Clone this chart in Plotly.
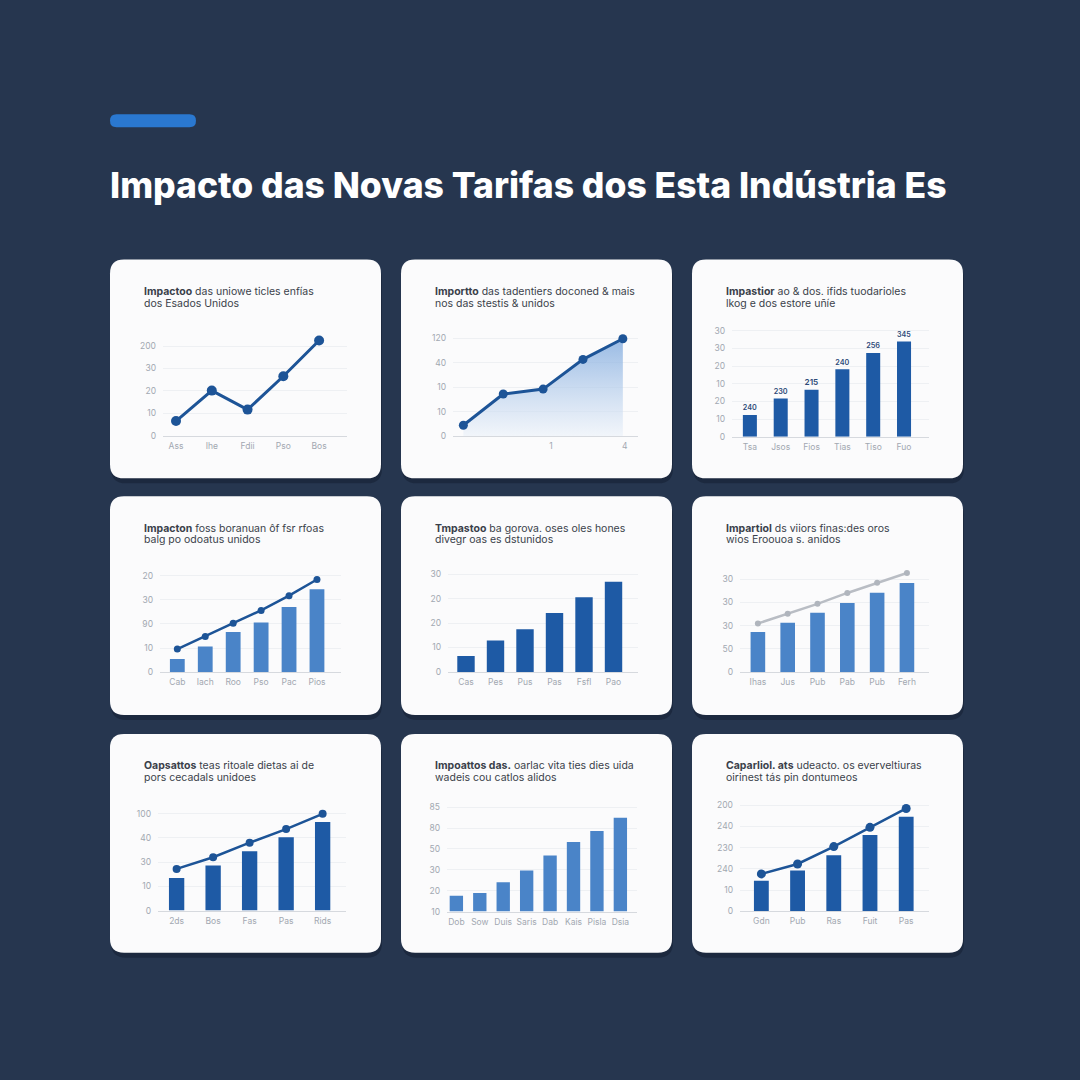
import plotly.graph_objects as go

W, H = 1080, 1080

# ---------------- DATA ----------------
main_title = "Impacto das Novas Tarifas dos Esta Indústria Es"

card_titles = [
    ("Impactoo", "das uniowe ticles enfías", "dos Esados Unidos"),
    ("Importto", "das tadentiers doconed & mais", "nos das stestis & unidos"),
    ("Impastior", "ao & dos. ifids tuodarioles", "lkog e dos estore uñíe"),
    ("Impacton", "foss boranuan ôf fsr rfoas", "balg po odoatus unidos"),
    ("Tmpastoo", "ba gorova. oses oles hones", "divegr oas es dstunidos"),
    ("Impartiol", "ds viiors finas:des oros", "wios Eroouoa s. anidos"),
    ("Oapsattos", "teas ritoale dietas ai de", "pors cecadals unidoes"),
    ("Impoattos das.", "oarlac vita ties dies uida", "wadeis cou catlos alidos"),
    ("Caparliol. ats", "udeacto. os everveltiuras", "oirinest tás pin dontumeos"),
]

c1_labels = ["Ass", "Ihe", "Fdii", "Pso", "Bos"]
c1_values = [6.5, 20.1, 11.6, 26.5, 42.5]
c1_ticks = ["0", "10", "20", "30", "200"]

c2_values = [4.5, 17.2, 19.2, 31.3, 39.7]
c2_xlabels = ["1", "4"]
c2_ticks = ["0", "10", "10", "40", "120"]

c3_labels = ["Tsa", "Jsos", "Fios", "Tias", "Tiso", "Fuo"]
c3_values = [12.4, 21.7, 26.6, 38.2, 47.4, 53.9]
c3_bar_labels = ["240", "230", "215", "240", "256", "345"]
c3_ticks = ["0", "10", "20", "10", "20", "30", "30"]

c4_labels = ["Cab", "Iach", "Roo", "Pso", "Pac", "Pios"]
c4_bars = [5.5, 10.7, 16.7, 20.6, 27.0, 34.4]
c4_line = [9.6, 14.8, 20.3, 25.6, 31.7, 38.4]
c4_ticks = ["0", "10", "90", "30", "20"]

c5_labels = ["Cas", "Pes", "Pus", "Pas", "Fsfl", "Pao"]
c5_values = [6.5, 12.9, 17.5, 24.1, 30.5, 36.9]
c5_ticks = ["0", "10", "20", "20", "30"]

c6_labels = ["Ihas", "Jus", "Pub", "Pab", "Pub", "Ferh"]
c6_bars = [17.2, 21.2, 25.5, 29.8, 34.2, 38.4]
c6_line = [20.9, 25.1, 29.4, 34.1, 38.5, 42.7]
c6_ticks = ["0", "50", "30", "30", "30"]

c7_labels = ["2ds", "Bos", "Fas", "Pas", "Rids"]
c7_bars = [13.4, 18.6, 24.5, 30.2, 36.5]
c7_line = [17.2, 22.0, 28.0, 33.6, 39.9]
c7_ticks = ["0", "10", "30", "40", "100"]

c8_labels = ["Dob", "Sow", "Duis", "Saris", "Dab", "Kais", "Pisla", "Dsia"]
c8_values = [7.6, 8.9, 14.1, 19.7, 26.9, 33.3, 38.6, 44.9]
c8_ticks = ["10", "20", "30", "50", "80", "85"]

c9_labels = ["Gdn", "Pub", "Ras", "Fuit", "Pas"]
c9_bars = [14.4, 19.2, 26.4, 36.0, 44.6]
c9_line = [17.6, 22.3, 30.5, 39.6, 48.5]
c9_ticks = ["0", "10", "240", "230", "240", "200"]

# ---------------- STYLE ----------------
BG = "#26364f"
CARD = "#fbfbfc"
DARK_BLUE = "#1e5aa5"
LINE_BLUE = "#1d5497"
LIGHT_BLUE = "#4a84c8"
GRID = "#eef0f3"
AXIS = "#d6d9de"
TICK_FONT = dict(family="Inter, Roboto, sans-serif", size=8.5, color="#a2a8b1")

def px(x):
    return x / W

def py(y):
    return 1 - y / H

fig = go.Figure()
shapes = []
annotations = []
layout_axes = {}

# card grid
card_x = [110, 401, 692]
card_y = [260, 498, 737]
card_w, card_h = 271, 220

def rr_path(x0, y0, x1, y1, r):
    X0, X1 = px(x0), px(x1)
    Y0, Y1 = py(y0), py(y1)
    R = r / W
    return (f"M {X0+R},{Y0} L {X1-R},{Y0} Q {X1},{Y0} {X1},{Y0-R} "
            f"L {X1},{Y1+R} Q {X1},{Y1} {X1-R},{Y1} L {X0+R},{Y1} "
            f"Q {X0},{Y1} {X0},{Y1+R} L {X0},{Y0-R} Q {X0},{Y0} {X0+R},{Y0} Z")

# accent bar
shapes.append(dict(type="path", xref="paper", yref="paper",
                   path=rr_path(110, 114, 196, 127, 6.5),
                   fillcolor="#2a78d0", line=dict(width=0), layer="below"))

k = 0
for r_, cy in enumerate(card_y):
    for c_, cx in enumerate(card_x):
        # soft shadow
        shapes.append(dict(type="path", xref="paper", yref="paper",
                           path=rr_path(cx + 1, cy + 4, cx + card_w + 1, cy + card_h + 5, 15),
                           fillcolor="rgba(8,14,28,0.30)", line=dict(width=0), layer="below"))
        shapes.append(dict(type="path", xref="paper", yref="paper",
                           path=rr_path(cx, cy, cx + card_w, cy + card_h, 14),
                           fillcolor=CARD, line=dict(width=0), layer="below"))
        bold, rest, line2 = card_titles[k]
        annotations.append(dict(xref="paper", yref="paper", x=px(cx + 32), y=py(cy + 32),
                                xanchor="left", yanchor="middle", showarrow=False,
                                text=f"<b>{bold}</b> {rest}",
                                font=dict(family="Inter, Roboto, sans-serif", size=10.5, color="#3a3f4a")))
        annotations.append(dict(xref="paper", yref="paper", x=px(cx + 32), y=py(cy + 44),
                                xanchor="left", yanchor="middle", showarrow=False,
                                text=line2,
                                font=dict(family="Inter, Roboto, sans-serif", size=10.5, color="#3a3f4a")))
        k += 1

def add_axes(i, x0, x1, ybot, ppu, ymax, xrange, ntick, ticktext, xtickvals, xticktext):
    xa = "xaxis" if i == 1 else f"xaxis{i}"
    ya = "yaxis" if i == 1 else f"yaxis{i}"
    ytop = ybot - ymax * ppu
    layout_axes[xa] = dict(domain=[px(x0), px(x1)], range=xrange, anchor=f"y{i if i > 1 else ''}",
                           showgrid=False, zeroline=False, showline=True, linecolor=AXIS, linewidth=1,
                           tickmode="array", tickvals=xtickvals, ticktext=xticktext,
                           ticks="", tickfont=TICK_FONT, ticklabelstandoff=2, fixedrange=True)
    layout_axes[ya] = dict(domain=[py(ybot), py(ytop)], range=[0, ymax], anchor=f"x{i if i > 1 else ''}",
                           showgrid=True, gridcolor=GRID, gridwidth=1, zeroline=False, showline=False,
                           tickmode="array", tickvals=[10 * t for t in range(ntick)], ticktext=ticktext,
                           ticks="", tickfont=TICK_FONT, ticklabelstandoff=6, fixedrange=True)

def ax(i):
    return ("x" if i == 1 else f"x{i}"), ("y" if i == 1 else f"y{i}")

# ---- Chart 1: line
xa, ya = ax(1)
idx = list(range(len(c1_values)))
fig.add_trace(go.Scatter(x=idx, y=c1_values, mode="lines+markers", xaxis=xa, yaxis=ya,
                         line=dict(color=LINE_BLUE, width=3), marker=dict(size=10, color=LINE_BLUE)))
add_axes(1, 163, 347, 437, 2.25, 45, [-0.364, 4.78], len(c1_ticks), c1_ticks, idx, c1_labels)

# ---- Chart 2: area line
xa, ya = ax(2)
idx = list(range(len(c2_values)))
fig.add_trace(go.Scatter(x=idx, y=c2_values, mode="lines+markers", xaxis=xa, yaxis=ya,
                         fill="tozeroy",
                         fillgradient=dict(type="vertical",
                                           colorscale=[[0, "rgba(235,241,249,0.6)"],
                                                       [1, "rgba(120,165,220,0.75)"]]),
                         line=dict(color=LINE_BLUE, width=3), marker=dict(size=9, color=LINE_BLUE)))
add_axes(2, 453, 638, 437.7, 2.47, 42, [-0.26, 4.38], len(c2_ticks), c2_ticks, [2.2, 4.05], c2_xlabels)

# ---- Chart 3: bars with labels
xa, ya = ax(3)
idx = list(range(len(c3_values)))
fig.add_trace(go.Bar(x=idx, y=c3_values, xaxis=xa, yaxis=ya, width=0.455,
                     marker=dict(color=DARK_BLUE, line=dict(width=0)),
                     text=c3_bar_labels, textposition="outside", cliponaxis=False,
                     textfont=dict(family="Inter, Roboto, sans-serif", size=9, color="#2d4a78", weight=600)))
add_axes(3, 732, 929, 438.3, 1.78, 62, [-0.58, 5.81], len(c3_ticks), c3_ticks, idx, c3_labels)

# ---- Chart 4: bars + line
xa, ya = ax(4)
idx = list(range(len(c4_bars)))
fig.add_trace(go.Bar(x=idx, y=c4_bars, xaxis=xa, yaxis=ya, width=0.53,
                     marker=dict(color=LIGHT_BLUE, line=dict(width=0))))
fig.add_trace(go.Scatter(x=idx, y=c4_line, mode="lines+markers", xaxis=xa, yaxis=ya,
                         line=dict(color=LINE_BLUE, width=2.5), marker=dict(size=7, color=LINE_BLUE)))
add_axes(4, 160, 341, 675, 2.43, 42, [-0.62, 5.86], len(c4_ticks), c4_ticks, idx, c4_labels)

# ---- Chart 5: bars
xa, ya = ax(5)
idx = list(range(len(c5_values)))
fig.add_trace(go.Bar(x=idx, y=c5_values, xaxis=xa, yaxis=ya, width=0.59,
                     marker=dict(color=DARK_BLUE, line=dict(width=0))))
add_axes(5, 448, 638, 674.7, 2.46, 42, [-0.61, 5.83], len(c5_ticks), c5_ticks, idx, c5_labels)

# ---- Chart 6: bars + gray line
xa, ya = ax(6)
idx = list(range(len(c6_bars)))
fig.add_trace(go.Bar(x=idx, y=c6_bars, xaxis=xa, yaxis=ya, width=0.49,
                     marker=dict(color=LIGHT_BLUE, line=dict(width=0))))
fig.add_trace(go.Scatter(x=idx, y=c6_line, mode="lines+markers", xaxis=xa, yaxis=ya,
                         line=dict(color="#b9bdc4", width=2.5), marker=dict(size=6, color="#b0b5bd")))
add_axes(6, 740, 929, 674.7, 2.33, 45, [-0.6, 5.74], len(c6_ticks), c6_ticks, idx, c6_labels)

# ---- Chart 7: bars + line
xa, ya = ax(7)
idx = list(range(len(c7_bars)))
fig.add_trace(go.Bar(x=idx, y=c7_bars, xaxis=xa, yaxis=ya, width=0.42,
                     marker=dict(color=DARK_BLUE, line=dict(width=0))))
fig.add_trace(go.Scatter(x=idx, y=c7_line, mode="lines+markers", xaxis=xa, yaxis=ya,
                         line=dict(color=LINE_BLUE, width=2.5), marker=dict(size=8, color=LINE_BLUE)))
add_axes(7, 158, 346, 914.7, 2.44, 42, [-0.51, 4.64], len(c7_ticks), c7_ticks, idx, c7_labels)

# ---- Chart 8: bars
xa, ya = ax(8)
idx = list(range(len(c8_values)))
fig.add_trace(go.Bar(x=idx, y=c8_values, xaxis=xa, yaxis=ya, width=0.57,
                     marker=dict(color=LIGHT_BLUE, line=dict(width=0))))
add_axes(8, 447, 637, 915.7, 2.1, 52, [-0.4, 7.71], len(c8_ticks), c8_ticks, idx, c8_labels)

# ---- Chart 9: bars + line
xa, ya = ax(9)
idx = list(range(len(c9_bars)))
fig.add_trace(go.Bar(x=idx, y=c9_bars, xaxis=xa, yaxis=ya, width=0.41,
                     marker=dict(color=DARK_BLUE, line=dict(width=0))))
fig.add_trace(go.Scatter(x=idx, y=c9_line, mode="lines+markers", xaxis=xa, yaxis=ya,
                         line=dict(color=LINE_BLUE, width=2.5), marker=dict(size=9, color=LINE_BLUE)))
add_axes(9, 740, 929, 915.3, 2.13, 52, [-0.59, 4.63], len(c9_ticks), c9_ticks, idx, c9_labels)

# main title
annotations.append(dict(xref="paper", yref="paper", x=px(108), y=py(186),
                        xanchor="left", yanchor="middle", showarrow=False,
                        text=main_title,
                        font=dict(family="Inter, Roboto, sans-serif", size=35.5, color="#ffffff", weight=800)))

fig.update_layout(
    width=W, height=H,
    margin=dict(l=0, r=0, t=0, b=0),
    paper_bgcolor=BG, plot_bgcolor="rgba(0,0,0,0)",
    showlegend=False,
    shapes=shapes, annotations=annotations,
    bargap=0.3,
    **layout_axes,
)

fig.write_html("out.html")
